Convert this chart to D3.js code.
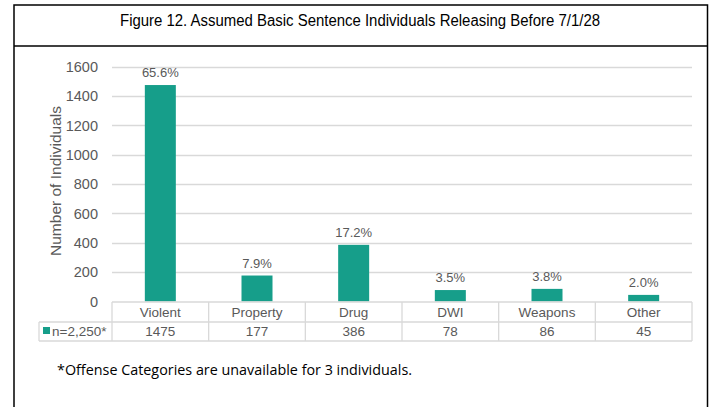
<!DOCTYPE html>
<html><head><meta charset="utf-8">
<script src="https://cdn.jsdelivr.net/npm/d3@7"></script>
<style>body{margin:0;background:#fff}svg{display:block}</style>
</head><body>
<script>
const categories = ["Violent","Property","Drug","DWI","Weapons","Other"];
const counts = [1475,177,386,78,86,45];
const percents = ["65.6%","7.9%","17.2%","3.5%","3.8%","2.0%"];
const yTicks = [0,200,400,600,800,1000,1200,1400,1600];
const seriesName = "n=2,250*";
const title = "Figure 12. Assumed Basic Sentence Individuals Releasing Before 7/1/28";
const yTitle = "Number of Individuals";
const footnote = "*Offense Categories are unavailable for 3 individuals.";

const W = 711, H = 407;
const teal = "#169E8A", grid = "#d9d9d9", txt = "#595959";
const svg = d3.select("body").append("svg").attr("width", W).attr("height", H);

// frame
svg.append("rect").attr("x",14).attr("y",5).attr("width",693.5).attr("height",420)
  .attr("fill","none").attr("stroke","#000").attr("stroke-width",1.5);
svg.append("line").attr("x1",14).attr("x2",707.5).attr("y1",46).attr("y2",46)
  .attr("stroke","#000").attr("stroke-width",1.5);
svg.append("text").attr("x",360).attr("y",26).attr("text-anchor","middle")
  .attr("font-family","Liberation Sans, Arial, sans-serif").attr("font-size",16)
  .attr("textLength",480).attr("lengthAdjust","spacingAndGlyphs")
  .attr("fill","#000").text(title);

const x = d3.scaleBand().domain(categories).range([112,692]).paddingInner(0).paddingOuter(0);
const y = d3.scaleLinear().domain([0,1600]).range([301.5,66.7]);

const font = "Liberation Sans, Arial, sans-serif";
// gridlines
svg.append("g").selectAll("line").data(yTicks.filter(d=>d>0)).join("line")
  .attr("x1",112).attr("x2",692).attr("y1",d=>Math.round(y(d))+0.5).attr("y2",d=>Math.round(y(d))+0.5)
  .attr("stroke",grid).attr("stroke-width",1.3);

// y axis labels
const yAxis = d3.axisLeft(y).tickValues(yTicks).tickFormat(d3.format("d")).tickSize(0).tickPadding(0);
const ga = svg.append("g").attr("transform","translate(98,0)").call(yAxis);
ga.select(".domain").remove();
ga.selectAll("text").attr("font-family",font).attr("font-size",14.5).attr("fill",txt);

svg.append("text").attr("transform","translate(61,181) rotate(-90)").attr("text-anchor","middle")
  .attr("font-family",font).attr("font-size",15.5).attr("fill",txt).text(yTitle);

// bars
const bw = 31;
svg.append("g").selectAll("rect").data(categories).join("rect")
  .attr("x",d=>x(d)+x.bandwidth()/2-bw/2).attr("width",bw)
  .attr("y",(d,i)=>y(counts[i])).attr("height",(d,i)=>y(0)-y(counts[i]))
  .attr("fill",teal);
svg.append("g").selectAll("text").data(categories).join("text")
  .attr("x",d=>x(d)+x.bandwidth()/2).attr("y",(d,i)=>y(counts[i])-8)
  .attr("text-anchor","middle").attr("font-family",font).attr("font-size",13).attr("fill",txt)
  .text((d,i)=>percents[i]);

// data table
const t0 = 302, t1 = 322, t2 = 341;
const tg = svg.append("g").attr("stroke",grid).attr("stroke-width",1.3);
tg.append("line").attr("x1",112).attr("x2",692).attr("y1",t0).attr("y2",t0);
tg.append("line").attr("x1",39).attr("x2",692).attr("y1",t1).attr("y2",t1);
tg.append("line").attr("x1",39).attr("x2",692).attr("y1",t2).attr("y2",t2);
tg.append("line").attr("x1",39).attr("x2",39).attr("y1",t1).attr("y2",t2);
tg.selectAll(".v").data(categories.map(d=>x(d)).concat([692])).join("line").attr("class","v")
  .attr("x1",d=>d).attr("x2",d=>d).attr("y1",t0).attr("y2",t2);

svg.append("g").selectAll("text").data(categories).join("text")
  .attr("x",d=>x(d)+x.bandwidth()/2).attr("y",317)
  .attr("text-anchor","middle").attr("font-family",font).attr("font-size",13.5).attr("fill",txt).text(d=>d);
svg.append("g").selectAll("text").data(categories).join("text")
  .attr("x",d=>x(d)+x.bandwidth()/2).attr("y",336)
  .attr("text-anchor","middle").attr("font-family",font).attr("font-size",13.5).attr("fill",txt)
  .text((d,i)=>counts[i]);
svg.append("rect").attr("x",43).attr("y",327).attr("width",7).attr("height",7).attr("fill",teal);
svg.append("text").attr("x",52).attr("y",336).attr("font-family",font).attr("font-size",13.5)
  .attr("fill",txt).text(seriesName);

svg.append("text").attr("x",57).attr("y",375).attr("font-family","Open Sans, sans-serif")
  .attr("font-size",14).attr("textLength",355).attr("lengthAdjust","spacingAndGlyphs")
  .attr("fill","#000").text(footnote);
</script>
</body></html>
